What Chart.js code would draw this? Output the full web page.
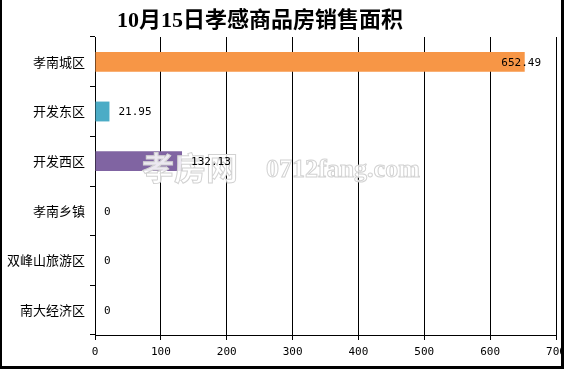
<!DOCTYPE html>
<html>
<head>
<meta charset="utf-8">
<script src="https://cdn.jsdelivr.net/npm/chart.js@4"></script>
<style>
  body { margin: 0; background: #fff; }
  #wrap { position: relative; width: 564px; height: 369px; }
  #frame {
    position: absolute; left: 0; top: 0; width: 564px; height: 369px;
    box-sizing: border-box; border-left: 2px solid #000; border-right: 3px solid #000;
    border-bottom: 3px solid #000; pointer-events: none;
  }
  canvas { position: absolute; left: 0; top: 0; }
</style>
</head>
<body>
<div id="wrap">
  <canvas id="chart1" width="564" height="369"></canvas>
  <div id="frame"></div>
</div>
<script>
  // chart data
  const titleText = '10月15日孝感商品房销售面积';
  const districts = ['孝南城区', '开发东区', '开发西区', '孝南乡镇', '双峰山旅游区', '南大经济区'];
  const areas = [652.49, 21.95, 132.13, 0, 0, 0];
  const barColors = ['#F79646', '#4BACC6', '#8064A2', '#9BBB59', '#C0504D', '#4F81BD'];
  const xTicks = [0, 100, 200, 300, 400, 500, 600, 700];

  const monoFont = "'DejaVu Sans Mono', 'Liberation Mono', monospace";

  // title, watermark and value labels
  const extras = {
    id: 'extras',
    afterDatasetsDraw(chart) {
      const ctx = chart.ctx;
      ctx.save();

      // watermark
      ctx.lineWidth = 1;
      ctx.strokeStyle = '#d2d2d2';
      ctx.fillStyle = 'rgba(255,255,255,0.85)';
      ctx.textBaseline = 'middle';
      ctx.textAlign = 'left';
      ctx.font = "bold 32px 'Noto Sans CJK SC'";
      ctx.fillText('孝房网', 142, 168);
      ctx.strokeText('孝房网', 142, 168);
      ctx.font = "bold 26px 'Liberation Serif', serif";
      ctx.fillText('0712fang.com', 266, 170);
      ctx.strokeText('0712fang.com', 266, 170);

      // value labels
      ctx.fillStyle = '#000';
      ctx.font = '11px ' + monoFont;
      const meta = chart.getDatasetMeta(0);
      meta.data.forEach((bar, i) => {
        const txt = areas[i].toString();
        const w = ctx.measureText(txt).width;
        let x = bar.x + 9;
        if (x + w > 541) x = 541 - w;
        ctx.fillText(txt, x, bar.y + 1);
      });

      // title
      ctx.font = "bold 22px 'Liberation Serif', 'Noto Sans CJK SC'";
      ctx.textAlign = 'center';
      ctx.fillText(titleText, 260, 21);
      ctx.restore();
    }
  };

  new Chart(document.getElementById('chart1'), {
    type: 'bar',
    data: {
      labels: districts,
      datasets: [{
        data: areas,
        backgroundColor: barColors,
        borderWidth: 0,
        barPercentage: 0.4,
        categoryPercentage: 1
      }]
    },
    options: {
      indexAxis: 'y',
      responsive: false,
      animation: false,
      devicePixelRatio: 1,
      layout: { padding: { left: 0, right: 8, top: 37, bottom: 0 } },
      plugins: {
        legend: { display: false },
        tooltip: { enabled: false }
      },
      scales: {
        x: {
          min: 0,
          max: 700,
          afterBuildTicks(scale) {
            scale.ticks = xTicks.map(v => ({ value: v }));
          },
          afterFit(scale) {
            scale.height = 34;
            scale.paddingLeft = 0;
            scale.paddingRight = 0;
          },
          grid: { color: '#000', lineWidth: 1, tickLength: 5 },
          border: { color: '#000', width: 1 },
          ticks: {
            color: '#000',
            padding: 6,
            maxRotation: 0,
            font: { family: monoFont, size: 11 }
          }
        },
        y: {
          afterFit(scale) {
            scale.width = 95;
            scale.paddingTop = 0;
            scale.paddingBottom = 0;
          },
          grid: { color: '#000', drawOnChartArea: false, tickLength: 5, offset: true },
          border: { color: '#000', width: 1 },
          ticks: {
            color: '#000',
            padding: 5,
            font: { family: "'Noto Sans CJK SC'", size: 13 }
          }
        }
      }
    },
    plugins: [extras]
  });
</script>
</body>
</html>
